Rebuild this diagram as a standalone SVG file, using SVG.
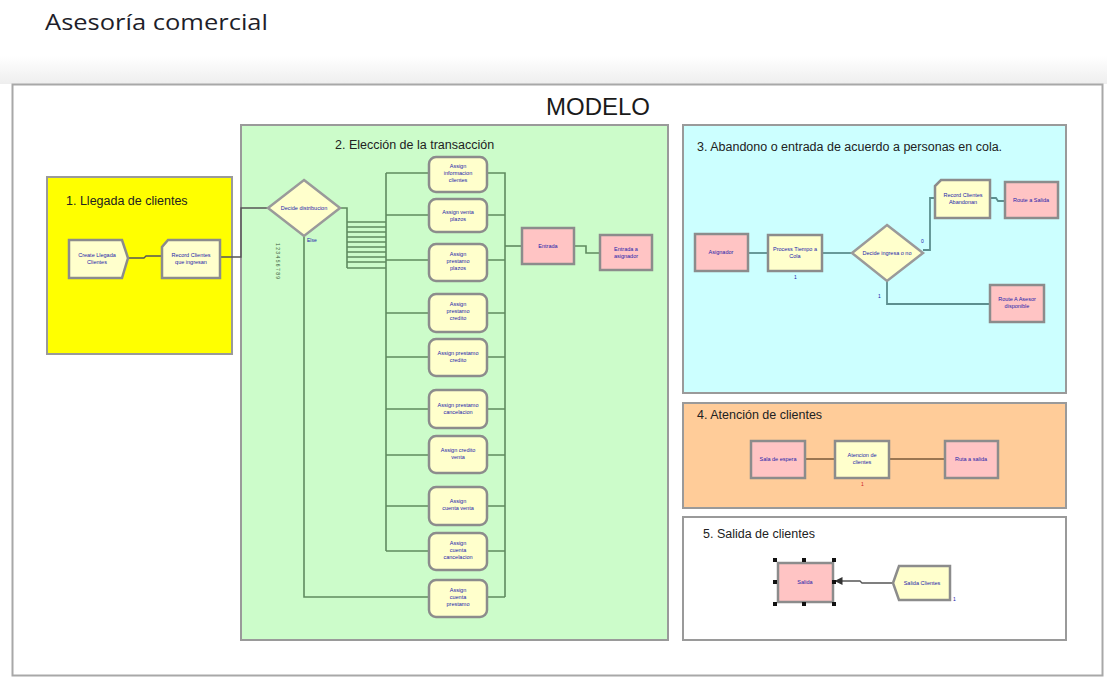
<svg xmlns="http://www.w3.org/2000/svg" width="1107" height="677" viewBox="0 0 1107 677">
<defs>
<style>
.sec{stroke:#9a9a9a;stroke-width:2}
.st{font-family:"Liberation Sans",Arial,sans-serif;font-size:12.5px;fill:#222}
.lb{font-family:"Liberation Sans",Arial,sans-serif;font-size:5.5px;fill:#1c1caa;text-anchor:middle}
.y{fill:#ffffcc;stroke:#8c8c8c;stroke-width:2.5}
.p{fill:#ffc4c4;stroke:#8c8c8c;stroke-width:2.5}
.cg{fill:none;stroke:#5f8a5f;stroke-width:1.6}
.cc{fill:none;stroke:#5c8f8f;stroke-width:1.8}
.cb{fill:none;stroke:#7a5a3a;stroke-width:1.5}
.ck{fill:none;stroke:#555;stroke-width:1.3}
.h{fill:#111}
.n{font-family:"Liberation Sans",Arial,sans-serif;font-size:5px;fill:#1c1caa}
</style>
<linearGradient id="band" x1="0" y1="0" x2="0" y2="1">
<stop offset="0" stop-color="#ffffff"/>
<stop offset="1" stop-color="#eeeeee"/>
</linearGradient>
<marker id="ar" markerWidth="6" markerHeight="6" refX="5" refY="3" orient="auto">
<path d="M0,0 L6,3 L0,6 z" fill="#333"/>
</marker>
</defs>
<rect x="0" y="0" width="1107" height="677" fill="#ffffff"/>
<rect x="0" y="56" width="1107" height="28" fill="url(#band)"/>
<text x="45" y="30" font-family="'Open Sans','Liberation Sans',sans-serif" font-size="21" fill="#1e1e2a" textLength="223" lengthAdjust="spacingAndGlyphs">Asesoría comercial</text>
<rect x="12.5" y="84.5" width="1090" height="591" fill="#ffffff" stroke="#a8a8a8" stroke-width="2"/>
<text x="598" y="115" text-anchor="middle" font-family="'Liberation Sans',Arial,sans-serif" font-size="24" fill="#1a1a1a">MODELO</text>

<g id="sec1">
<rect class="sec" x="47" y="177" width="185" height="177" fill="#ffff00"/>
<text class="st" x="66" y="205">1. Llegada de clientes</text>
</g>
<g id="sec2">
<rect class="sec" x="241" y="125" width="427" height="515" fill="#ccfcca"/>
<text class="st" x="335" y="149">2. Elección de la transacción</text>
</g>
<g id="sec3">
<rect class="sec" x="683" y="125" width="383" height="268" fill="#ccffff"/>
<text class="st" x="697" y="151">3. Abandono o entrada de acuerdo a personas en cola.</text>
</g>
<g id="sec4">
<rect class="sec" x="683" y="403" width="383" height="105" fill="#ffcc99"/>
<text class="st" x="697" y="419">4. Atención de clientes</text>
</g>
<g id="sec5">
<rect class="sec" x="683" y="517" width="383" height="123" fill="#ffffff"/>
<text class="st" x="703" y="538">5. Salida de clientes</text>
</g>

<g id="connectors">
<path class="ck" d="M128,258 H144 L146,256 H162"/>
<path class="ck" d="M220,257 H241 V208 H268"/>
<path class="cg" d="M340,208 H347 V268"/>
<path class="cg" d="M347,222 H386 M347,227 H386 M347,232 H386 M347,237 H386 M347,242 H386 M347,247 H386 M347,252 H386 M347,257 H386 M347,262 H386 M347,268 H386"/>
<path class="cg" d="M386,173 V551 M386,173 H429 M386,215 H429 M386,260 H429 M386,313 H429 M386,357 H429 M386,409 H429 M386,455 H429 M386,506 H429 M386,551 H429"/>
<path class="cg" d="M304,236 V597 H429"/>
<path class="cg" d="M487,173 H505 V597 M487,215 H505 M487,260 H505 M487,313 H505 M487,357 H505 M487,409 H505 M487,455 H505 M487,506 H505 M487,551 H505 M487,597 H505"/>
<path class="cg" d="M505,246 H521"/>
<path class="cg" d="M574,246 H586 V253 H600"/>
<path class="cc" d="M748,253 H768"/>
<path class="cc" d="M822,253 H852"/>
<path class="cc" d="M923,250 H930 V198 H935"/>
<path class="cc" d="M990,198 H996 L998,201 H1005"/>
<path class="cc" d="M887,281 V304 H990"/>
<path class="cb" d="M805,459 H835"/>
<path class="cb" d="M889,459 H945"/>
<path class="ck" d="M893,583 H862 L860,581 H836" marker-end="url(#ar)"/>
</g>

<g id="create-llegada">
<polygon class="y" points="69,240 122,240 128,258 122,278 69,278"/>
<text class="lb" x="97" y="257">Create Llegada</text>
<text class="lb" x="97" y="264">Clientes</text>
</g>
<g id="record-ingresan">
<polygon class="y" points="168,240 220,240 220,278 162,278 162,247"/>
<text class="lb" x="191" y="257">Record Clientes</text>
<text class="lb" x="191" y="264">que ingresan</text>
</g>
<g id="decide-distribucion">
<polygon fill="#ffffcc" stroke="#9a9a9a" stroke-width="2.5" points="304,180 340,208 304,236 268,208"/>
<text class="lb" x="304" y="210">Decide distribucion</text>
<text class="n" x="307" y="242">Else</text>
<text class="n" transform="translate(276,243) rotate(90)" style="fill:#3d5a3d">1 2 3 4 5 6 7 8 9</text>
</g>

<g id="assign1"><rect class="y" x="429" y="157" width="58" height="35" rx="7"/><text class="lb" x="458" y="168">Assign</text><text class="lb" x="458" y="175">informacion</text><text class="lb" x="458" y="182">clientes</text></g>
<g id="assign2"><rect class="y" x="429" y="199" width="58" height="33" rx="7"/><text class="lb" x="458" y="214">Assign venta</text><text class="lb" x="458" y="221">plazos</text></g>
<g id="assign3"><rect class="y" x="429" y="244" width="58" height="37" rx="7"/><text class="lb" x="458" y="256">Assign</text><text class="lb" x="458" y="263">prestamo</text><text class="lb" x="458" y="270">plazos</text></g>
<g id="assign4"><rect class="y" x="429" y="294" width="58" height="38" rx="7"/><text class="lb" x="458" y="306">Assign</text><text class="lb" x="458" y="313">prestamo</text><text class="lb" x="458" y="320">credito</text></g>
<g id="assign5"><rect class="y" x="429" y="339" width="58" height="37" rx="7"/><text class="lb" x="458" y="355">Assign prestamo</text><text class="lb" x="458" y="362">credito</text></g>
<g id="assign6"><rect class="y" x="429" y="390" width="58" height="38" rx="7"/><text class="lb" x="458" y="407">Assign prestamo</text><text class="lb" x="458" y="414">cancelacion</text></g>
<g id="assign7"><rect class="y" x="429" y="436" width="58" height="37" rx="7"/><text class="lb" x="458" y="452">Assign credito</text><text class="lb" x="458" y="459">venta</text></g>
<g id="assign8"><rect class="y" x="429" y="487" width="58" height="38" rx="7"/><text class="lb" x="458" y="503">Assign</text><text class="lb" x="458" y="510">cuenta venta</text></g>
<g id="assign9"><rect class="y" x="429" y="533" width="58" height="37" rx="7"/><text class="lb" x="458" y="545">Assign</text><text class="lb" x="458" y="552">cuenta</text><text class="lb" x="458" y="559">cancelacion</text></g>
<g id="assign10"><rect class="y" x="429" y="580" width="58" height="37" rx="7"/><text class="lb" x="458" y="592">Assign</text><text class="lb" x="458" y="599">cuenta</text><text class="lb" x="458" y="606">prestamo</text></g>

<g id="entrada"><rect class="p" x="522" y="228" width="52" height="36"/><text class="lb" x="548" y="248">Entrada</text></g>
<g id="entrada-asignador"><rect class="p" x="600" y="235" width="52" height="35"/><text class="lb" x="626" y="251">Entrada a</text><text class="lb" x="626" y="258">asignador</text></g>

<g id="asignador"><rect class="p" x="695" y="234" width="53" height="37"/><text class="lb" x="721" y="254">Asignador</text></g>
<g id="process-cola"><rect class="y" x="768" y="235" width="54" height="36"/><text class="lb" x="795" y="251">Process Tiempo a</text><text class="lb" x="795" y="258">Cola</text><text class="n" x="794" y="279">1</text></g>
<g id="decide-ingresa">
<polygon fill="#ffffcc" stroke="#9a9a9a" stroke-width="2.5" points="887,225 923,253 887,281 852,253"/>
<text class="lb" x="887" y="255">Decide ingresa o no</text>
<text class="n" x="921" y="243">0</text>
<text class="n" x="878" y="298">1</text>
</g>
<g id="record-abandonan">
<polygon class="y" points="941,180 990,180 990,218 935,218 935,186"/>
<text class="lb" x="963" y="197">Record Clientes</text>
<text class="lb" x="963" y="204">Abandonan</text>
</g>
<g id="route-salida"><rect class="p" x="1005" y="182" width="53" height="36"/><text class="lb" x="1031" y="202">Route a Salida</text></g>
<g id="route-asesor"><rect class="p" x="990" y="285" width="54" height="37"/><text class="lb" x="1017" y="301">Route A Asesor</text><text class="lb" x="1017" y="308">disponible</text></g>

<g id="sala-espera"><rect class="p" x="751" y="441" width="54" height="37"/><text class="lb" x="778" y="461">Sala de espera</text></g>
<g id="atencion"><rect class="y" x="835" y="441" width="54" height="37"/><text class="lb" x="862" y="457">Atencion de</text><text class="lb" x="862" y="464">clientes</text><text class="n" x="861" y="486" style="fill:#cc2222">1</text></g>
<g id="ruta-salida"><rect class="p" x="945" y="441" width="53" height="37"/><text class="lb" x="971" y="461">Ruta a salida</text></g>

<g id="salida">
<rect class="p" x="778" y="563" width="55" height="39"/>
<text class="lb" x="805" y="584">Salida</text>
<rect class="h" x="773" y="558" width="4" height="4"/><rect class="h" x="802" y="558" width="4" height="4"/><rect class="h" x="832" y="558" width="4" height="4"/>
<rect class="h" x="773" y="580" width="4" height="4"/><rect class="h" x="832" y="580" width="4" height="4"/>
<rect class="h" x="773" y="602" width="4" height="4"/><rect class="h" x="802" y="602" width="4" height="4"/><rect class="h" x="832" y="602" width="4" height="4"/>
</g>
<g id="salida-clientes">
<polygon class="y" points="899,566 950,566 950,600 899,600 893,583"/>
<text class="lb" x="922" y="585">Salida Clientes</text>
<text class="n" x="953" y="601">1</text>
</g>
</svg>
